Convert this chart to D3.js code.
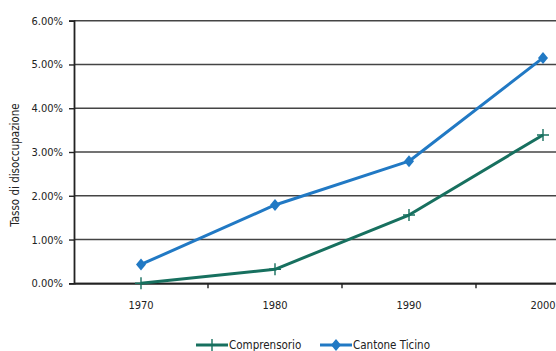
<!DOCTYPE html>
<html>
<head>
<meta charset="utf-8">
<script src="https://cdn.jsdelivr.net/npm/d3@7"></script>
<style>
  html, body { margin: 0; padding: 0; background: #fff; }
  svg { display: block; }
  text { font-family: "DejaVu Sans Condensed", "DejaVu Sans", sans-serif; fill: #222; }
</style>
</head>
<body>
<svg id="chart" width="556" height="351"></svg>
<script>
// Unemployment rate by census year
const years = ["1970", "1980", "1990", "2000"];
const comprensorio = [0.0, 0.32, 1.56, 3.39];
const cantoneTicino = [0.43, 1.79, 2.79, 5.15];
const yTicks = [0, 1, 2, 3, 4, 5, 6];
const seriesNames = ["Comprensorio", "Cantone Ticino"];

const series = [
  { name: seriesNames[0], values: comprensorio, color: "#17705f", marker: "plus" },
  { name: seriesNames[1], values: cantoneTicino, color: "#2179c4", marker: "diamond" }
];

const svg = d3.select("#chart");
const plotLeft = 74, plotTop = 20.7, plotBottom = 283.3, plotRight = 610;

const x = d3.scaleBand().domain(years).range([plotLeft, plotRight]);
const y = d3.scaleLinear().domain([0, 6]).range([plotBottom, plotTop]);

// horizontal gridlines
svg.append("g")
  .selectAll("line")
  .data(yTicks)
  .join("line")
  .attr("x1", plotLeft).attr("x2", plotRight)
  .attr("y1", d => y(d)).attr("y2", d => y(d))
  .attr("stroke", "#444").attr("stroke-width", 1.4);

// y axis
const yAxis = svg.append("g")
  .attr("transform", `translate(${plotLeft},0)`)
  .call(d3.axisLeft(y).tickValues(yTicks).tickFormat(d => d.toFixed(2) + "%").tickSize(5).tickPadding(6));
yAxis.select(".domain").attr("stroke", "#222").attr("stroke-width", 1.8);
yAxis.selectAll(".tick line").attr("stroke", "#222").attr("stroke-width", 1.4);
yAxis.selectAll("text").attr("font-size", "11px").attr("fill", "#222");

// x axis with tick marks between categories
const xAxis = svg.append("g")
  .attr("transform", `translate(0,${plotBottom})`)
  .call(d3.axisBottom(x).tickSize(0).tickPadding(18));
xAxis.select(".domain").attr("stroke", "#222").attr("stroke-width", 1.8);
xAxis.selectAll("text").attr("font-size", "11px").attr("fill", "#222");
xAxis.selectAll("line.sep")
  .data(years.slice(1))
  .join("line")
  .attr("class", "sep")
  .attr("x1", d => x(d)).attr("x2", d => x(d))
  .attr("y1", 0).attr("y2", 5)
  .attr("stroke", "#222").attr("stroke-width", 1.4);

// y axis title
svg.append("text")
  .attr("transform", `translate(19,165) rotate(-90)`)
  .attr("text-anchor", "middle")
  .attr("font-size", "11.5px")
  .attr("fill", "#222")
  .text("Tasso di disoccupazione");

const cx = d => x(d) + x.bandwidth() / 2;
const line = d3.line().x(d => cx(d.year)).y(d => y(d.v));

function drawMarker(g, type, color, px, py) {
  if (type === "diamond") {
    g.append("path")
      .attr("d", `M${px},${py - 6}L${px + 5},${py}L${px},${py + 6}L${px - 5},${py}Z`)
      .attr("fill", color);
  } else {
    g.append("path")
      .attr("d", `M${px - 6},${py}H${px + 6}M${px},${py - 6}V${py + 6}`)
      .attr("stroke", color).attr("stroke-width", 1.4).attr("fill", "none");
  }
}

series.forEach(s => {
  const pts = years.map((yr, i) => ({ year: yr, v: s.values[i] }));
  const g = svg.append("g");
  g.append("path")
    .attr("d", line(pts))
    .attr("fill", "none")
    .attr("stroke", s.color)
    .attr("stroke-width", 3)
    .attr("stroke-linejoin", "round");
  pts.forEach(p => drawMarker(g, s.marker, s.color, cx(p.year), y(p.v)));
});

// legend
const legendX = [196, 320];
series.forEach((s, i) => {
  const g = svg.append("g").attr("transform", `translate(${legendX[i]},345)`);
  g.append("line").attr("x1", 0).attr("x2", 32).attr("y1", 0).attr("y2", 0)
    .attr("stroke", s.color).attr("stroke-width", 3);
  drawMarker(g, s.marker, s.color, 16, 0);
  g.append("text").attr("x", 33).attr("y", 4)
    .attr("font-size", "11.5px").attr("fill", "#222")
    .text(s.name);
});
</script>
</body>
</html>
